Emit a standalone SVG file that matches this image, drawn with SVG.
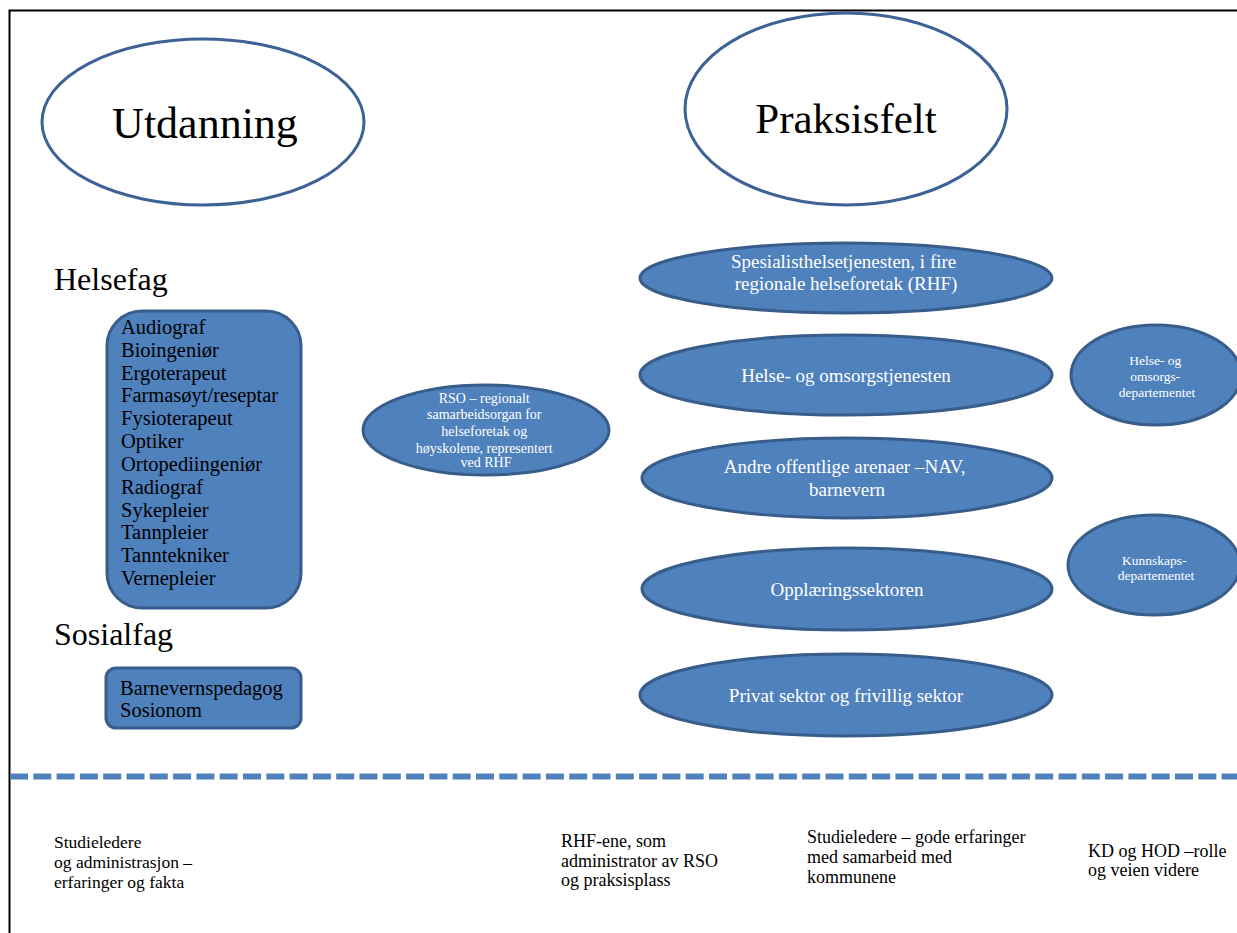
<svg xmlns="http://www.w3.org/2000/svg" width="1237" height="933" viewBox="0 0 1237 933">
<style>
.t{font-family:"Liberation Serif","Times New Roman",serif;fill:#000}
.w{font-family:"Liberation Serif","Times New Roman",serif;fill:#fff;text-anchor:middle}
.big{fill:#fff;stroke:#3d6295;stroke-width:3}
.blue{fill:#4f81bd;stroke:#385d8a;stroke-width:3}
</style>
<rect width="1237" height="933" fill="#fff"/>
<g id="frame">
<path d="M9.5 933V10.5H1237" fill="none" stroke="#000" stroke-width="2"/>
</g>
<g id="utdanning">
<ellipse class="big" cx="203" cy="122" rx="161" ry="83"/>
<text class="t" x="205" y="138" font-size="44" text-anchor="middle">Utdanning</text>
</g>
<g id="praksisfelt">
<ellipse class="big" cx="846" cy="109" rx="161" ry="96"/>
<text class="t" x="846" y="133" font-size="43" text-anchor="middle">Praksisfelt</text>
</g>
<g id="helsefag-label">
<text class="t" x="54" y="290" font-size="32">Helsefag</text>
</g>
<g id="helsefag">
<rect class="blue" x="107" y="311" width="194" height="297" rx="35"/>
<text class="t" font-size="20.5">
<tspan x="121" y="334">Audiograf</tspan>
<tspan x="121" y="357">Bioingeniør</tspan>
<tspan x="121" y="380">Ergoterapeut</tspan>
<tspan x="121" y="402">Farmasøyt/reseptar</tspan>
<tspan x="121" y="425">Fysioterapeut</tspan>
<tspan x="121" y="448">Optiker</tspan>
<tspan x="121" y="471">Ortopediingeniør</tspan>
<tspan x="121" y="494">Radiograf</tspan>
<tspan x="121" y="517">Sykepleier</tspan>
<tspan x="121" y="539">Tannpleier</tspan>
<tspan x="121" y="562">Tanntekniker</tspan>
<tspan x="121" y="585">Vernepleier</tspan>
</text>
</g>
<g id="sosialfag-label">
<text class="t" x="54" y="645" font-size="32">Sosialfag</text>
</g>
<g id="sosialfag">
<rect class="blue" x="106" y="668" width="195" height="60" rx="10"/>
<text class="t" font-size="20.5">
<tspan x="120" y="695">Barnevernspedagog</tspan>
<tspan x="120" y="717">Sosionom</tspan>
</text>
</g>
<g id="rso">
<ellipse class="blue" cx="486" cy="430" rx="123" ry="45"/>
<text class="w" font-size="14">
<tspan x="486" y="403">RSO – regionalt</tspan>
<tspan x="486" y="419">samarbeidsorgan for</tspan>
<tspan x="486" y="436">helseforetak og</tspan>
<tspan x="486" y="453">høyskolene, representert</tspan>
<tspan x="486" y="467">ved RHF</tspan>
</text>
</g>
<g id="spesialist">
<ellipse class="blue" cx="846" cy="278" rx="206" ry="35"/>
<text class="w" font-size="19">
<tspan x="846" y="268">Spesialisthelsetjenesten, i fire</tspan>
<tspan x="846" y="290">regionale helseforetak (RHF)</tspan>
</text>
</g>
<g id="helse-omsorg">
<ellipse class="blue" cx="846" cy="375" rx="206" ry="40"/>
<text class="w" x="846" y="382" font-size="19">Helse- og omsorgstjenesten</text>
</g>
<g id="andre">
<ellipse class="blue" cx="847" cy="478" rx="205" ry="40"/>
<text class="w" font-size="19">
<tspan x="847" y="473">Andre offentlige arenaer –NAV,</tspan>
<tspan x="847" y="496">barnevern</tspan>
</text>
</g>
<g id="opplaering">
<ellipse class="blue" cx="847" cy="589" rx="205" ry="41"/>
<text class="w" x="847" y="596" font-size="19">Opplæringssektoren</text>
</g>
<g id="privat">
<ellipse class="blue" cx="846" cy="695" rx="206" ry="41"/>
<text class="w" x="846" y="702" font-size="19">Privat sektor og frivillig sektor</text>
</g>
<g id="hod">
<ellipse class="blue" cx="1156" cy="375" rx="85" ry="50"/>
<text class="w" font-size="13.5">
<tspan x="1157" y="365">Helse- og</tspan>
<tspan x="1157" y="381">omsorgs-</tspan>
<tspan x="1157" y="397">departementet</tspan>
</text>
</g>
<g id="kd">
<ellipse class="blue" cx="1154" cy="565" rx="86" ry="50"/>
<text class="w" font-size="13.5">
<tspan x="1156" y="565">Kunnskaps-</tspan>
<tspan x="1156" y="580">departementet</tspan>
</text>
</g>
<g id="connectors">
<line x1="10" y1="776.5" x2="1237" y2="776.5" stroke="#4f81bd" stroke-width="6" stroke-dasharray="18 5.3"/>
</g>
<g id="bottom-1">
<text class="t" font-size="17.5">
<tspan x="54" y="848">Studieledere</tspan>
<tspan x="54" y="868">og administrasjon –</tspan>
<tspan x="54" y="888">erfaringer og fakta</tspan>
</text>
</g>
<g id="bottom-2">
<text class="t" font-size="18">
<tspan x="561" y="847">RHF-ene, som</tspan>
<tspan x="561" y="867">administrator av RSO</tspan>
<tspan x="561" y="886">og praksisplass</tspan>
</text>
</g>
<g id="bottom-3">
<text class="t" font-size="18">
<tspan x="807" y="843">Studieledere – gode erfaringer</tspan>
<tspan x="807" y="863">med samarbeid med</tspan>
<tspan x="807" y="883">kommunene</tspan>
</text>
</g>
<g id="bottom-4">
<text class="t" font-size="18">
<tspan x="1088" y="857">KD og HOD –rolle</tspan>
<tspan x="1088" y="876">og veien videre</tspan>
</text>
</g>
</svg>
